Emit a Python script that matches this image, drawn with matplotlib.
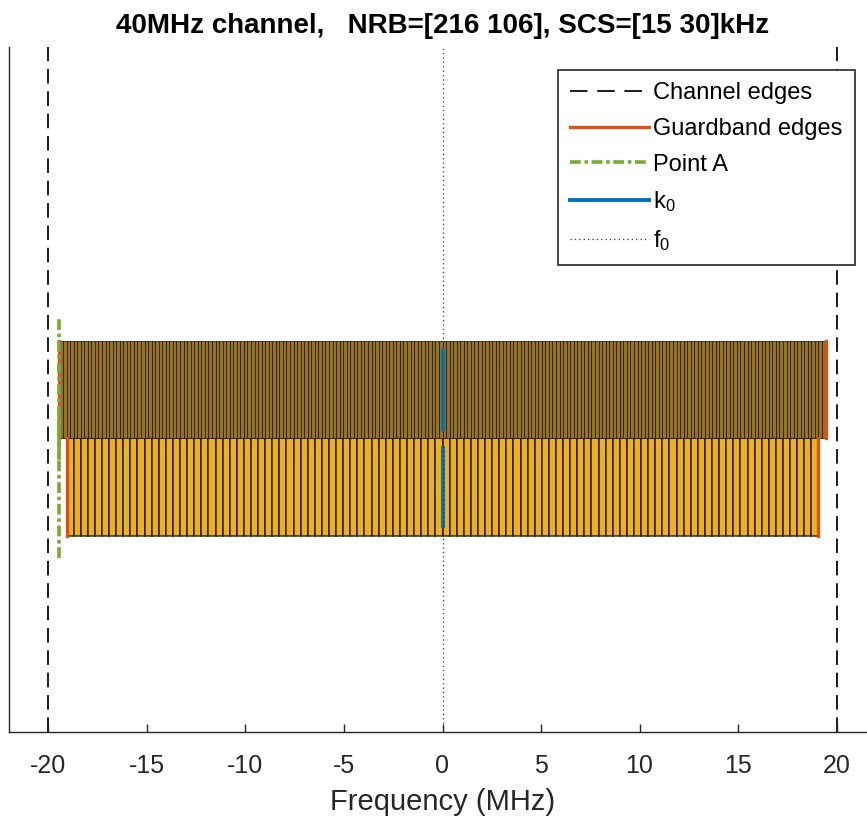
import matplotlib
matplotlib.use("Agg")
import matplotlib.pyplot as plt
import numpy as np

# carriers: index 0 drawn on top row, index 1 below
nrb = [216, 106]
scs_khz = [15, 30]
band_rows = [1, 0]
band_colors = ['#98731a', '#EDB120']
channel_bw = 40          # MHz
point_a = [-19.47, -19.47]
k0 = [0.0, 0.0]
f0 = 0.0

plt.rcParams['font.family'] = ['Liberation Sans', 'DejaVu Sans']
plt.rcParams['mathtext.fontset'] = 'custom'
plt.rcParams['mathtext.rm'] = 'Liberation Sans'
plt.rcParams['mathtext.it'] = 'Liberation Sans'
plt.rcParams['axes.unicode_minus'] = False

W, H = 867, 821
fig = plt.figure(figsize=(W / 100, H / 100), dpi=100)
ax = fig.add_axes([9 / W, 1 - 732 / H, 867 / W, (732 - 47) / H])

# resource blocks
for i in range(len(nrb)):
    rbw = 12 * scs_khz[i] / 1000.0
    start = -nrb[i] * rbw / 2
    lefts = start + np.arange(nrb[i]) * rbw
    y0 = band_rows[i]
    ax.bar(lefts, 1, width=rbw, bottom=y0, align='edge', color=band_colors[i],
           edgecolor=(0.08, 0.06, 0.0, 0.85), linewidth=0.6 if i == 0 else 1.1,
           zorder=2 if i == 1 else 4)
    # guardband edges
    ax.plot([start, start], [y0, y0 + 1], color='#D95319', lw=2.4,
            zorder=5, label='Guardband edges' if i == 0 else None)
    ax.plot([-start, -start], [y0, y0 + 1], color='#D95319', lw=2.4, zorder=5)
    # k0
    ax.plot([k0[i], k0[i]], [y0 + 0.1, y0 + 0.9], color='#0072BD', lw=2.8,
            zorder=3 if i == 1 else 5, label=r'k$_0$' if i == 0 else None)
    # point A
    ax.plot([point_a[i], point_a[i]], [y0 - 0.225, y0 + 1.225], color='#77AC30',
            lw=2.6, ls=(0, (3, 1, 1, 1)), zorder=6,
            label='Point A' if i == 0 else None)

# channel edges
for xe in [-channel_bw / 2, channel_bw / 2]:
    ax.plot([xe, xe], [-2, 5], color='#1a1a1a', lw=1.4, ls=(0, (7.5, 4)), zorder=1,
            label='Channel edges' if xe < 0 else None)

# f0
ax.plot([f0, f0], [-2, 5], color='#333333', lw=0.9, ls=(0, (1, 2.5)), zorder=3.5,
        label=r'f$_0$')

ax.set_xlim(-22, 22)
ax.set_ylim(-2, 5)
ax.set_xticks(np.arange(-20, 21, 5))
ax.set_yticks([])
ax.tick_params(axis='x', direction='in', length=6, width=1, labelsize=18,
               colors='#262626', pad=16)
for s in ['top', 'right']:
    ax.spines[s].set_visible(False)
for s in ['left', 'bottom']:
    ax.spines[s].set_color('#262626')
    ax.spines[s].set_linewidth(1.0)

ax.set_xlabel('Frequency (MHz)', fontsize=21, color='#262626', labelpad=7)
ax.set_title('40MHz channel,   NRB=[216 106], SCS=[15 30]kHz', fontsize=20,
             fontweight='bold', pad=10)

handles, labels = ax.get_legend_handles_labels()
order = ['Channel edges', 'Guardband edges', 'Point A', r'k$_0$', r'f$_0$']
hl = dict(zip(labels, handles))
leg = ax.legend([hl[o] for o in order], order, loc='upper left',
                bbox_to_anchor=(558 / W, 1 - 70 / H), bbox_transform=fig.transFigure,
                borderaxespad=0, fontsize=17, handlelength=3.35, handletextpad=0.15,
                fancybox=False, framealpha=1, edgecolor='#262626',
                labelspacing=0.58, borderpad=0.52)
leg.get_frame().set_linewidth(1.2)
leg.get_lines()[0].set_dashes((9, 5))

fig.savefig('out.png', dpi=100)
